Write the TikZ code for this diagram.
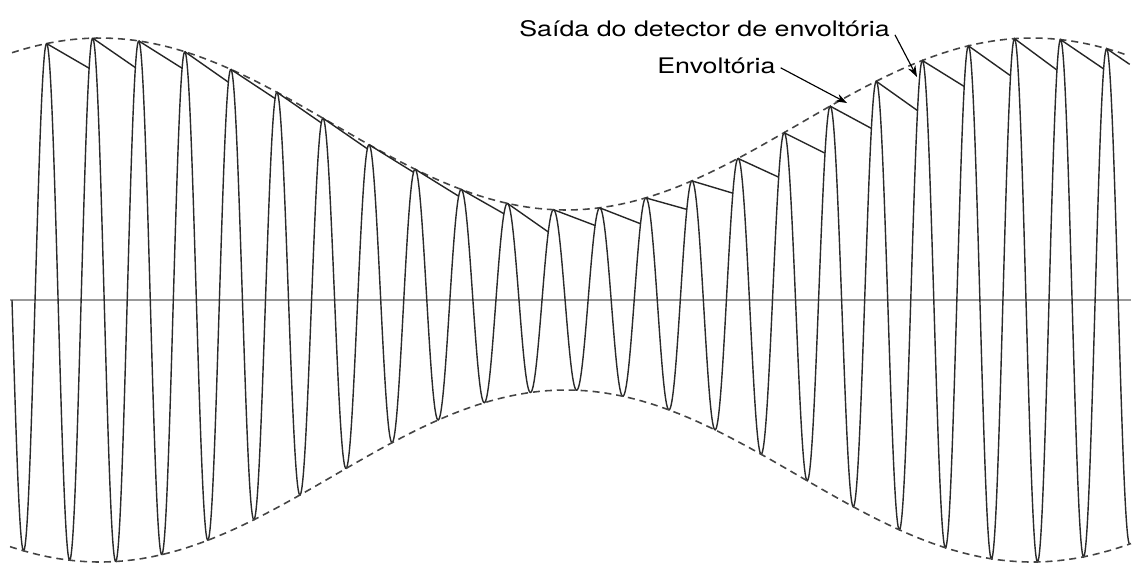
\documentclass[tikz,border=0pt]{standalone}
\usepackage{fontspec}
\setmainfont{TeX Gyre Heros}
\usepackage{graphicx}
\usetikzlibrary{arrows.meta, positioning}
\definecolor{carrierink}{HTML}{2A2A2A}
\definecolor{envink}{HTML}{444444}
\definecolor{axisgray}{HTML}{999999}
\newcommand{\widetext}[1]{\scalebox{1.25}[1]{#1}}

\begin{document}
\begin{tikzpicture}[
  x=0.02cm, y=-0.02cm,
  declare function={env(\x)=176+86*cos((\x-100)/932*360);},
  axisline/.style={line width=1.1pt, color=axisgray},
  carrier/.style={line width=0.8pt, color=carrierink},
  envelope/.style={line width=0.9pt, color=envink, dash pattern=on 4pt off 2.8pt},
  detector/.style={line width=0.8pt, color=black!85},
  lbl/.style={inner sep=0pt, font=\fontsize{12.2pt}{14pt}\selectfont},
  pointer/.style={-{Stealth[length=6.5pt, width=4.6pt]}, line width=0.65pt}
]
\useasboundingbox (0,0) rectangle (1136,562);

\def\per{46.09}
\def\xz{12}
\pgfmathsetmacro{\xend}{\xz+24.25*\per}

% Axis
\draw[axisline] (10,300) -- (1131,300);

% Modulated carrier
\draw[carrier] plot[domain=\xz:\xend, samples=1700]
      (\x, {300+env(\x)*sin((\x-\xz)/\per*360)});

% Envelope
\draw[envelope] plot[domain=12:1127, samples=120] (\x, {300-env(\x)});
\draw[envelope] plot[domain=10:1131, samples=120] (\x, {300+env(\x)});

% Envelope detector output
\foreach \k/\sl in {0/0.58,1/0.69,2/0.63,3/0.70,4/0.66,5/0.69,6/0.69,7/0.62,
                    8/0.62,9/0.57,10/0.70,11/0.38,12/0.39,13/0.28,14/0.30,
                    15/0.46,16/0.50,17/0.54,18/0.71,19/0.62,20/0.71,21/0.74,22/0.68}{
  \pgfmathsetmacro{\xa}{\xz+(0.75+\k)*\per}
  \pgfmathsetmacro{\ya}{env(\xa)}
  \pgfmathsetmacro{\yb}{env(\xa+\per)}
  \pgfmathsetmacro{\du}{0}
  \pgfmathsetmacro{\du}{-\per/360*acos(min(1,(\ya-\sl*(\per+\du))/\yb))}
  \pgfmathsetmacro{\du}{-\per/360*acos(min(1,(\ya-\sl*(\per+\du))/\yb))}
  \pgfmathsetmacro{\du}{-\per/360*acos(min(1,(\ya-\sl*(\per+\du))/\yb))}
  \draw[detector] (\xa, {300-\ya}) -- ({\xa+\per+\du}, {300-\ya+\sl*(\per+\du)});
}
\pgfmathsetmacro{\xa}{\xz+23.75*\per}
\draw[detector] (\xa, {300-env(\xa)}) -- (\xend, {300-env(\xa)+0.68*(\xend-\xa)});

% Labels
\node[lbl, anchor=base west] (lblout) at (519,36)
      {\widetext{Saída do detector de envoltória}};
\node[lbl, anchor=base west] (lblenv) at (657,73)
      {\widetext{Envoltória}};

\coordinate (outtip) at (917,77);
\coordinate (envtip) at (847,103);

\draw[pointer] ([shift={(2.8pt,1.1pt)}]lblout.south east) -- (outtip);
\draw[pointer] ([shift={(2.8pt,-1.4pt)}]lblenv.east) -- (envtip);

\end{tikzpicture}
\end{document}
